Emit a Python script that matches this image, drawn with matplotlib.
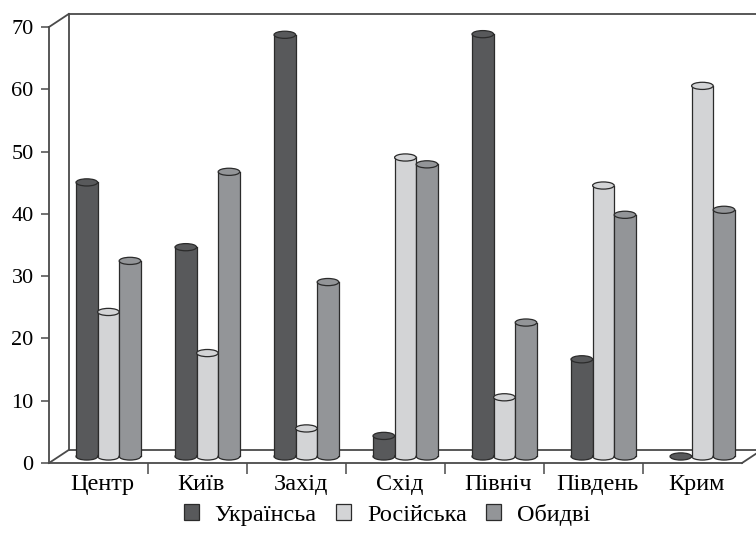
import matplotlib
matplotlib.use("Agg")
import matplotlib.pyplot as plt
from matplotlib.patches import Rectangle, Ellipse, Patch

# values (%)
regions = ["Центр", "Київ", "Захід", "Схід", "Північ", "Південь", "Крим"]
series = ["Українсьа", "Російська", "Обидві"]
ukrainian = [44.0, 33.6, 67.7, 3.3, 67.8, 15.6, 0.0]
russian = [23.2, 16.6, 4.5, 48.0, 9.5, 43.5, 59.5]
both = [31.4, 45.7, 28.0, 46.9, 21.5, 38.8, 39.6]
yticks = [0, 10, 20, 30, 40, 50, 60, 70]

colors = ["#58595b", "#d3d4d6", "#939598"]
edge = "#2b2b2b"
frame = "#4a4a4a"

# fake 3D: depth offset of the back wall in data units
DX, DY = 0.2, 2.1
BAR_W = 0.218
ELL_H = 1.15

plt.rcParams["font.family"] = ["Liberation Serif", "DejaVu Serif"]

fig = plt.figure(figsize=(7.56, 5.34), dpi=100)
ax = fig.add_axes([49 / 756, 71 / 534, 693 / 756, 436 / 534])
ax.set_xlim(0, len(regions))
ax.set_ylim(0, 70)

# walls / floor
ax.plot([DX, DX], [DY, 70 + DY], color=frame, lw=1.3, clip_on=False)
ax.plot([DX, len(regions) + DX], [70 + DY, 70 + DY], color=frame, lw=1.3, clip_on=False)
ax.plot([DX, len(regions) + DX], [DY, DY], color=frame, lw=1.3, clip_on=False)
ax.plot([0, DX], [70, 70 + DY], color=frame, lw=1.3, clip_on=False)
ax.plot([0, DX], [0, DY], color=frame, lw=1.3, clip_on=False)
ax.plot([len(regions), len(regions) + DX], [0, DY], color=frame, lw=1.3, clip_on=False)

for k, vals in enumerate([ukrainian, russian, both]):
    for i, v in enumerate(vals):
        cx = i + 0.5 + DX / 2 + (k - 1) * BAR_W
        base = DY / 2
        x0 = cx - BAR_W / 2
        ax.add_patch(Ellipse((cx, base), BAR_W, ELL_H, facecolor=colors[k],
                             edgecolor=edge, lw=0.9, zorder=3 + k * 0.1))
        if v > 0:
            ax.add_patch(Rectangle((x0, base), BAR_W, v, facecolor=colors[k],
                                   edgecolor="none", zorder=3 + k * 0.1))
            ax.plot([x0, x0], [base, base + v], color=edge, lw=0.9, zorder=3.05 + k * 0.1)
            ax.plot([x0 + BAR_W, x0 + BAR_W], [base, base + v], color=edge, lw=0.9,
                    zorder=3.05 + k * 0.1)
            ax.add_patch(Ellipse((cx, base + v), BAR_W, ELL_H, facecolor=colors[k],
                                 edgecolor=edge, lw=0.9, zorder=3.08 + k * 0.1))

for s in ["top", "right"]:
    ax.spines[s].set_visible(False)
ax.spines["left"].set_color(frame)
ax.spines["bottom"].set_color(frame)
ax.spines["left"].set_linewidth(1.3)
ax.spines["bottom"].set_linewidth(1.3)

ax.set_yticks(yticks)
ax.tick_params(axis="y", direction="out", length=6, width=1.1, color=frame,
               labelsize=16, pad=5)
ax.set_xticks(range(1, len(regions)))
ax.set_xticklabels([])
ax.tick_params(axis="x", which="major", direction="out", length=8, width=1.1, color=frame)
ax.set_xticks([i + 0.54 for i in range(len(regions))], minor=True)
ax.set_xticklabels(regions, minor=True)
ax.tick_params(axis="x", which="minor", length=0, labelsize=17.5, pad=8)

handles = [Patch(facecolor=c, edgecolor=edge, lw=0.9) for c in colors]
fig.legend(handles, series, loc="center", bbox_to_anchor=(0.512, 0.036), ncol=3,
           frameon=False, fontsize=17.5, handlelength=0.62, handleheight=0.62,
           handletextpad=0.65, columnspacing=0.8, borderpad=0.1)

fig.savefig("out.png", dpi=100)
